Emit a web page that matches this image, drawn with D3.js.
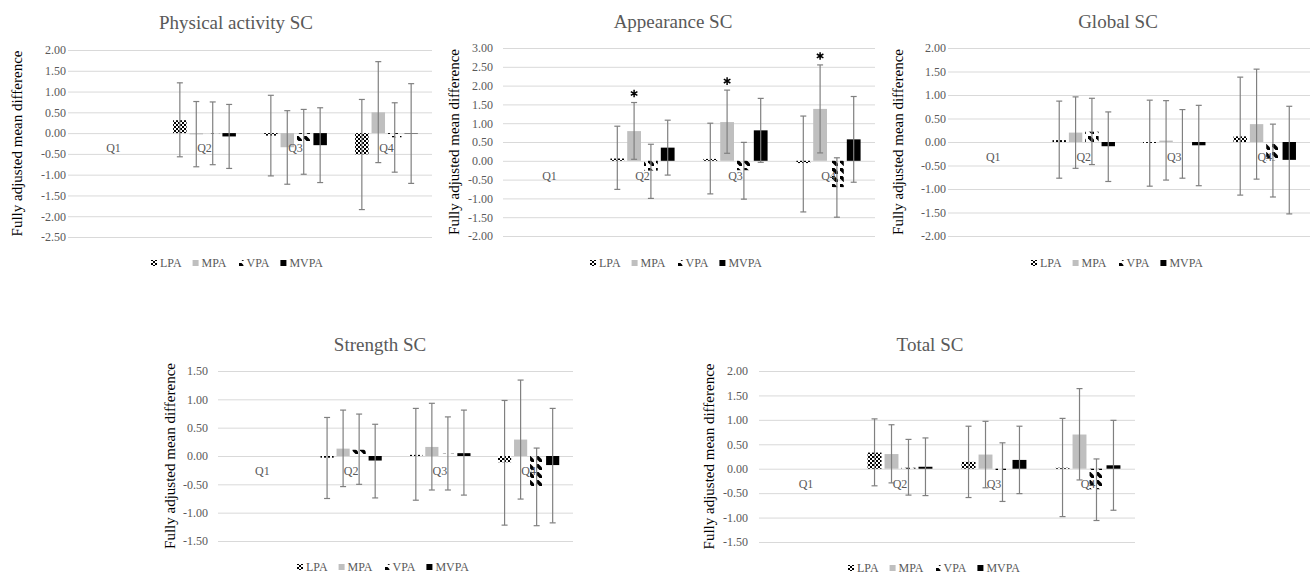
<!DOCTYPE html>
<html>
<head>
<meta charset="utf-8">
<title>Fully adjusted mean difference by quartile</title>
<script src="https://d3js.org/d3.v7.min.js"></script>
<style>
  body { margin: 0; background: #fff; }
  text { font-family: "Liberation Serif", "Times New Roman", serif; }
</style>
</head>
<body>
<div id="container"></div>
<script>
// Categories and series
const quartiles = ["Q1", "Q2", "Q3", "Q4"]
const series = ["LPA", "MPA", "VPA", "MVPA"]

// Physical activity SC (Q1 is the reference, so it has no values)
const physicalMean = { LPA: [null, 0.31, -0.06, -0.51], MPA: [null, -0.03, -0.34, 0.50], VPA: [null, -0.01, -0.19, -0.10], MVPA: [null, -0.08, -0.29, -0.01] }
const physicalLow  = { LPA: [null, -0.57, -1.03, -1.84], MPA: [null, -0.81, -1.23, -0.71], VPA: [null, -0.76, -0.99, -0.94], MVPA: [null, -0.85, -1.19, -1.21] }
const physicalHigh = { LPA: [null, 1.21, 0.91, 0.81], MPA: [null, 0.76, 0.54, 1.72], VPA: [null, 0.75, 0.57, 0.73], MVPA: [null, 0.69, 0.61, 1.19] }
const physicalTicks = [-2.5, -2, -1.5, -1, -0.5, 0, 0.5, 1, 1.5, 2]

// Appearance SC
const appearanceMean = { LPA: [null, 0.06, 0.05, -0.06], MPA: [null, 0.79, 1.03, 1.38], VPA: [null, -0.26, -0.25, -0.70], MVPA: [null, 0.35, 0.81, 0.57] }
const appearanceLow  = { LPA: [null, -0.76, -0.88, -1.36], MPA: [null, 0.04, 0.20, 0.21], VPA: [null, -1.00, -1.02, -1.50], MVPA: [null, -0.38, -0.04, -0.57] }
const appearanceHigh = { LPA: [null, 0.92, 1.00, 1.19], MPA: [null, 1.55, 1.88, 2.55], VPA: [null, 0.44, 0.49, 0.08], MVPA: [null, 1.08, 1.66, 1.71] }
const appearanceStars = { MPA: [false, true, true, true] }
const appearanceTicks = [-2, -1.5, -1, -0.5, 0, 0.5, 1, 1.5, 2, 2.5, 3]

// Global SC
const globalMean = { LPA: [null, 0.04, -0.02, 0.12], MPA: [null, 0.20, 0.03, 0.38], VPA: [null, 0.22, -0.04, -0.39], MVPA: [null, -0.09, -0.07, -0.38] }
const globalLow  = { LPA: [null, -0.77, -0.94, -1.13], MPA: [null, -0.56, -0.81, -0.79], VPA: [null, -0.48, -0.77, -1.17], MVPA: [null, -0.84, -0.93, -1.53] }
const globalHigh = { LPA: [null, 0.87, 0.89, 1.38], MPA: [null, 0.96, 0.88, 1.55], VPA: [null, 0.93, 0.69, 0.38], MVPA: [null, 0.64, 0.78, 0.76] }
const globalTicks = [-2, -1.5, -1, -0.5, 0, 0.5, 1, 1.5, 2]

// Strength SC
const strengthMean = { LPA: [null, -0.03, 0.02, -0.11], MPA: [null, 0.13, 0.16, 0.29], VPA: [null, 0.11, 0.04, -0.54], MVPA: [null, -0.08, 0.05, -0.16] }
const strengthLow  = { LPA: [null, -0.75, -0.78, -1.22], MPA: [null, -0.54, -0.60, -0.76], VPA: [null, -0.50, -0.60, -1.23], MVPA: [null, -0.74, -0.69, -1.18] }
const strengthHigh = { LPA: [null, 0.68, 0.84, 0.98], MPA: [null, 0.81, 0.93, 1.34], VPA: [null, 0.74, 0.69, 0.14], MVPA: [null, 0.56, 0.81, 0.84] }
const strengthTicks = [-1.5, -1, -0.5, 0, 0.5, 1, 1.5]

// Total SC
const totalMean = { LPA: [null, 0.33, 0.14, 0.02], MPA: [null, 0.30, 0.29, 0.70], VPA: [null, 0.02, -0.06, -0.42], MVPA: [null, 0.04, 0.18, 0.07] }
const totalLow  = { LPA: [null, -0.35, -0.59, -0.98], MPA: [null, -0.29, -0.39, -0.23], VPA: [null, -0.54, -0.67, -1.06], MVPA: [null, -0.55, -0.51, -0.85] }
const totalHigh = { LPA: [null, 1.02, 0.87, 1.03], MPA: [null, 0.90, 0.97, 1.64], VPA: [null, 0.60, 0.53, 0.20], MVPA: [null, 0.63, 0.87, 0.99] }
const totalTicks = [-1.5, -1, -0.5, 0, 0.5, 1, 1.5, 2]

const yTitle = "Fully adjusted mean difference"
const grey = "#595959"
const errColor = "#808080"

const svg = d3.select("#container")
    .append("svg")
    .attr("width", 1312)
    .attr("height", 578)

// Fill patterns
const defs = svg.append("defs")

const lpa = defs.append("pattern")
    .attr("id", "pat-LPA")
    .attr("patternUnits", "userSpaceOnUse")
    .attr("width", 4).attr("height", 4)
lpa.append("rect").attr("width", 4).attr("height", 4).attr("fill", "#fff")
lpa.append("rect").attr("width", 2).attr("height", 2).attr("fill", "#000")
lpa.append("rect").attr("x", 2).attr("y", 2).attr("width", 2).attr("height", 2).attr("fill", "#000")

// dashed downward diagonal
const vpa = defs.append("pattern")
    .attr("id", "pat-VPA")
    .attr("patternUnits", "userSpaceOnUse")
    .attr("width", 8).attr("height", 8)
vpa.append("polygon").attr("points", "0,0 2.5,0 6,3.5 6,6 3.5,6 0,2.5").attr("fill", "#000")

const fills = { LPA: "url(#pat-LPA)", MPA: "#bfbfbf", VPA: "url(#pat-VPA)", MVPA: "#000" }

const panels = [
    { title: "Physical activity SC", mean: physicalMean, low: physicalLow, high: physicalHigh, ticks: physicalTicks,
      left: 68, right: 432, top: 50, bottom: 237, pad: 2, titleX: 236, titleY: 29, yTitleX: 22, legendX: 237, legendY: 263 },
    { title: "Appearance SC", mean: appearanceMean, low: appearanceLow, high: appearanceHigh, ticks: appearanceTicks, stars: appearanceStars,
      left: 503, right: 875, top: 48, bottom: 236, pad: 10, titleX: 673, titleY: 28, yTitleX: 459, legendX: 676, legendY: 263 },
    { title: "Global SC", mean: globalMean, low: globalLow, high: globalHigh, ticks: globalTicks,
      left: 948, right: 1310, top: 48, bottom: 236, pad: 2, titleX: 1118, titleY: 28, yTitleX: 903, legendX: 1117, legendY: 263 },
    { title: "Strength SC", mean: strengthMean, low: strengthLow, high: strengthHigh, ticks: strengthTicks,
      left: 218, right: 573, top: 371, bottom: 541, pad: 10, titleX: 380, titleY: 351, yTitleX: 175, legendX: 383, legendY: 567 },
    { title: "Total SC", mean: totalMean, low: totalLow, high: totalHigh, ticks: totalTicks,
      left: 759, right: 1135, top: 371, bottom: 542, pad: 11, titleX: 930, titleY: 351, yTitleX: 714, legendX: 934, legendY: 568 }
]

panels.forEach(p => {
    const g = svg.append("g")

    const ext = d3.extent(p.ticks)
    const y = d3.scaleLinear().domain(ext).range([p.bottom, p.top])
    const x0 = d3.scaleBand().domain(quartiles).range([p.left, p.right])
    const groupW = x0.bandwidth() * 0.69
    const x1 = d3.scaleBand().domain(series).range([-groupW / 2, groupW / 2]).paddingInner(0.18)

    // Title
    g.append("text")
        .attr("x", p.titleX)
        .attr("y", p.titleY)
        .attr("text-anchor", "middle")
        .attr("font-size", 19)
        .attr("fill", grey)
        .text(p.title)

    // Gridlines + y labels
    const yAxis = d3.axisLeft(y)
        .tickValues(p.ticks)
        .tickSize(-(p.right - p.left))
        .tickPadding(p.pad)
        .tickFormat(d => d.toFixed(2))
    const ag = g.append("g")
        .attr("transform", "translate(" + p.left + ",0)")
        .call(yAxis)
    ag.select(".domain").remove()
    ag.selectAll("line").attr("stroke", "#d9d9d9").attr("stroke-width", 1)
    ag.selectAll("text")
        .attr("fill", grey)
        .attr("font-size", 12)
        .style("font-family", "'Liberation Serif', serif")

    // Y title
    g.append("text")
        .attr("transform", "translate(" + p.yTitleX + "," + ((p.top + p.bottom) / 2) + ")rotate(-90)")
        .attr("text-anchor", "middle")
        .attr("font-size", 15)
        .attr("fill", "#000")
        .text(yTitle)

    // Bars
    const cells = []
    series.forEach(s => {
        quartiles.forEach((q, i) => {
            const m = p.mean[s][i]
            if (m === null) return
            cells.push({ s, q, m, lo: p.low[s][i], hi: p.high[s][i],
                         star: p.stars && p.stars[s] ? p.stars[s][i] : false })
        })
    })
    const cx = d => x0(d.q) + x0.bandwidth() / 2 + x1(d.s)

    g.selectAll(".bar")
        .data(cells)
        .enter()
        .append("rect")
        .attr("class", "bar")
        .attr("x", d => cx(d))
        .attr("y", d => y(Math.max(0, d.m)))
        .attr("width", x1.bandwidth())
        .attr("height", d => Math.abs(y(d.m) - y(0)))
        .attr("fill", d => fills[d.s])

    // Category labels
    g.selectAll(".qlab")
        .data(quartiles)
        .enter()
        .append("text")
        .attr("x", d => x0(d) + x0.bandwidth() / 2)
        .attr("y", y(0) + 19)
        .attr("text-anchor", "middle")
        .attr("font-size", 12)
        .attr("fill", grey)
        .text(d => d)

    // Error bars
    const mid = d => cx(d) + x1.bandwidth() / 2
    const eg = g.append("g").attr("stroke", errColor).attr("stroke-width", 1.2)
    eg.selectAll(".err")
        .data(cells)
        .enter()
        .append("line")
        .attr("x1", mid).attr("x2", mid)
        .attr("y1", d => y(d.lo)).attr("y2", d => y(d.hi))
    eg.selectAll(".capHi")
        .data(cells)
        .enter()
        .append("line")
        .attr("x1", d => mid(d) - 3).attr("x2", d => mid(d) + 3)
        .attr("y1", d => y(d.hi)).attr("y2", d => y(d.hi))
    eg.selectAll(".capLo")
        .data(cells)
        .enter()
        .append("line")
        .attr("x1", d => mid(d) - 3).attr("x2", d => mid(d) + 3)
        .attr("y1", d => y(d.lo)).attr("y2", d => y(d.lo))

    // Significance stars (drawn as symbols so they stay plain black)
    const star = d3.symbol().type(d3.symbolAsterisk).size(40)
    g.selectAll(".star")
        .data(cells.filter(d => d.star))
        .enter()
        .append("path")
        .attr("class", "star")
        .attr("d", star)
        .attr("transform", d => "translate(" + mid(d) + "," + (y(d.hi) - 9) + ")")
        .attr("fill", "none")
        .attr("stroke", "#000")
        .attr("stroke-width", 1.5)

    // Legend
    const lg = g.append("g")
    let lx = 0
    series.forEach(s => {
        lg.append("rect")
            .attr("x", lx).attr("y", -3)
            .attr("width", 6).attr("height", 6)
            .attr("fill", fills[s])
        const t = lg.append("text")
            .attr("x", lx + 9)
            .attr("y", 4)
            .attr("font-size", 12)
            .attr("fill", grey)
            .text(s)
        lx += 9 + t.node().getComputedTextLength() + 11
    })
    lx -= 11
    lg.attr("transform", "translate(" + (p.legendX - lx / 2) + "," + p.legendY + ")")
})
</script>
</body>
</html>
